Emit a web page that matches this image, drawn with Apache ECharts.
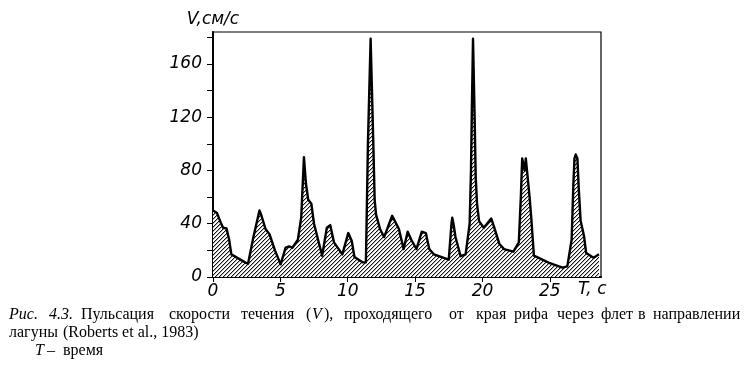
<!DOCTYPE html>
<html>
<head>
<meta charset="utf-8">
<script src="https://cdn.jsdelivr.net/npm/echarts@6/dist/echarts.min.js"></script>
<style>
html,body{margin:0;padding:0;background:#fff;}
#c{width:752px;height:369px;}
</style>
</head>
<body>
<div id="c"></div>
<script>
// Time, s
var timeT = [0.0, 0.3, 0.57, 0.75, 1.0, 1.2, 1.36, 2.45, 2.6, 3.0, 3.45, 3.6, 3.9, 4.2, 4.6, 5.02,
  5.39, 5.65, 5.89, 6.3, 6.55, 6.75, 6.9, 7.07, 7.3, 7.5, 8.1, 8.45, 8.7, 8.98, 9.6, 10.04, 10.3, 10.5,
  11.1, 11.35, 11.5, 11.7, 11.9, 12.0, 12.1, 12.4, 12.7, 13.3, 13.8, 14.15, 14.45, 14.72, 15.1, 15.5,
  15.8, 16.05, 16.4, 17.5, 17.7, 17.76, 17.85, 18.0, 18.38, 18.75, 19.05, 19.15, 19.22, 19.3, 19.42,
  19.5, 19.6, 19.75, 20.1, 20.65, 20.85, 21.25, 21.6, 22.3, 22.7, 22.85, 22.95, 23.05, 23.13, 23.22,
  23.3, 23.5, 23.62, 23.82, 24.95, 25.95, 26.3, 26.62, 26.75, 26.83, 26.92, 27.05, 27.15, 27.29,
  27.45, 27.55, 27.7, 28.25, 28.65];
// Velocity, cm/s
var velocityV = [50, 48, 41, 37, 36.5, 28, 17, 10.6, 10, 30, 50, 46, 36, 32, 20, 9.5,
  22, 23, 22, 28, 45, 90, 70, 58, 55, 40, 16, 37, 39, 26, 17, 33, 27, 15,
  11, 11, 100, 179, 100, 58, 47, 36, 30, 46, 36, 21, 34, 28, 21, 34,
  33, 21, 17, 13, 40, 44.5, 40, 30, 15.6, 17, 40, 80, 130, 179, 120,
  75, 55, 42, 37, 44, 38, 25, 21, 19, 26, 60, 89, 89, 80, 89,
  89, 60, 45, 16, 10.6, 7, 8, 28, 70, 89, 92, 89, 66, 42,
  35, 30, 18, 14.4, 17];
var yTicks = [0, 40, 80, 120, 160];
var xTicks = [0, 5, 10, 15, 20, 25];

var seriesData = timeT.map(function (t, i) { return [t, velocityV[i]]; });

// hatch pattern "////"
var s = 4;
var pc = document.createElement('canvas');
pc.width = s; pc.height = s;
var pctx = pc.getContext('2d');
pctx.fillStyle = '#fff';
pctx.fillRect(0, 0, s, s);
for (var i = 0; i < s; i++) {
  pctx.fillStyle = '#111';
  pctx.fillRect(i, s - 1 - i, 1, 1);
  pctx.fillStyle = '#b0b0b0';
  pctx.fillRect(i, (s - i) % s, 1, 1);
}

var chart = echarts.init(document.getElementById('c'), null, {renderer: 'canvas'});
var labelFont = {color: '#000', fontFamily: 'DejaVu Sans', fontStyle: 'italic', fontSize: 17};
var capFont = 'Liberation Serif';
function txt(x, y, t, italic) {
  return {type: 'text', left: x, top: y, style: {text: t, fill: '#000', font: (italic ? 'italic ' : '') + '16px "' + capFont + '"'}};
}
chart.setOption({
  animation: false,
  backgroundColor: '#fff',
  grid: {left: 213, right: 151, top: 32, bottom: 92, show: true, borderColor: '#000', borderWidth: 1.2, backgroundColor: 'transparent'},
  xAxis: {
    type: 'value', min: 0, max: 28.8, interval: 5,
    axisLine: {show: true, lineStyle: {color: '#000', width: 2}},
    axisTick: {show: true, length: 5, inside: false, lineStyle: {color: '#000', width: 1}},
    splitLine: {show: false},
    axisLabel: Object.assign({margin: 6, showMaxLabel: false,
      formatter: function (v) { return xTicks.indexOf(v) >= 0 ? String(v) : ''; }}, labelFont)
  },
  yAxis: {
    type: 'value', min: 0, max: 184, interval: 20,
    name: 'V,см/с', nameLocation: 'end', nameGap: 4,
    nameTextStyle: {color: '#000', fontFamily: 'DejaVu Sans', fontStyle: 'italic', fontSize: 17, align: 'center'},
    axisLine: {show: true, lineStyle: {color: '#000', width: 2}},
    axisTick: {show: true, length: 6, inside: false, lineStyle: {color: '#000', width: 1}},
    splitLine: {show: false},
    axisLabel: Object.assign({margin: 11, showMaxLabel: false,
      formatter: function (v) { return yTicks.indexOf(v) >= 0 ? String(v) : ''; }}, labelFont)
  },
  series: [{
    type: 'line', data: seriesData, showSymbol: false, smooth: false,
    lineStyle: {color: '#000', width: 2.4, join: 'round'},
    areaStyle: {color: {image: pc, repeat: 'repeat'}, opacity: 1}
  }],
  graphic: [
    {type: 'text', left: 578, top: 281, style: {text: 'T, c', fill: '#000', font: 'italic 17px "DejaVu Sans"'}},
    txt(9, 307, 'Рис.', true),
    txt(49, 307, '4.3.', true),
    txt(81, 307, 'Пульсация', false),
    txt(169, 307, 'скорости', false),
    txt(241, 307, 'течения', false),
    txt(306, 307, '(', false),
    txt(312, 307, 'V', true),
    txt(324, 307, '),', false),
    txt(344, 307, 'проходящего', false),
    txt(449, 307, 'от', false),
    txt(476, 307, 'края', false),
    txt(514, 307, 'рифа', false),
    txt(557, 307, 'через', false),
    txt(601, 307, 'флет', false),
    txt(638, 307, 'в', false),
    txt(653, 307, 'направлении', false),
    txt(9, 325, 'лагуны', false),
    txt(63, 325, '(Roberts et al., 1983)', false),
    txt(35, 343, 'T', true),
    txt(47, 343, '–', false),
    txt(63, 343, 'время', false)
  ]
});
</script>
</body>
</html>
